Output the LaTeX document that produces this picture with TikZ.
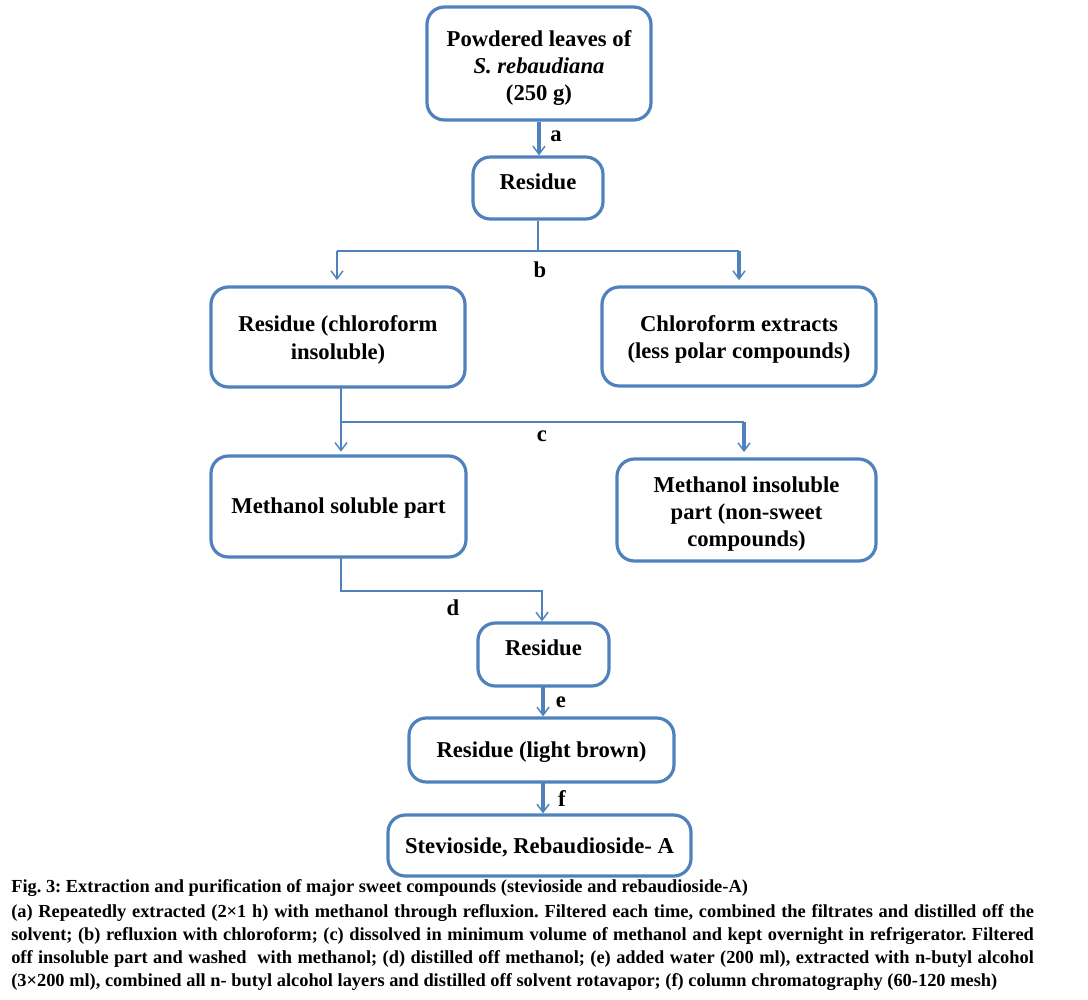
\documentclass[tikz,border=0pt]{standalone}
\usepackage{fontspec}
\setmainfont{Liberation Serif}
\usetikzlibrary{arrows.meta}
\definecolor{fblue}{HTML}{4F81BD}
\tikzset{
  box/.style={draw=fblue, line width=2.4pt, rounded corners=13pt, inner sep=0pt},
  boxtext/.style={align=center, inner sep=0pt, font=\fontsize{17}{20.5}\selectfont\bfseries},
  thinline/.style={draw=fblue, line width=0.8pt},
  thickline/.style={draw=fblue, line width=2.6pt},
  tip/.style={-{Straight Barb[length=6pt,width=9pt,line width=1.1pt]}},
  lab/.style={font=\fontsize{17}{20}\selectfont\bfseries, inner sep=0pt},
  captext/.style={anchor=west, inner sep=0pt, font=\fontsize{13.8}{16}\selectfont\bfseries}
}
\begin{document}
\frenchspacing
\begin{tikzpicture}[x=0.75pt,y=-0.75pt]
\useasboundingbox (0,0) rectangle (1088,999);
% boxes
\node[box, minimum width=168pt, minimum height=84.75pt] (n1) at (539,63.5) {};
\node[boxtext] (n1t) at (539,68) {Powdered leaves of\\\textit{S. rebaudiana}\\(250 g)};
\node[box, minimum width=97.5pt, minimum height=46.5pt] (n2) at (538,188) {};
\node[boxtext] (n2t) at (538,182) {Residue};
\node[box, minimum width=190.5pt, minimum height=75pt] (n3) at (338,337) {};
\node[boxtext] (n3t) at (338,340) {Residue (chloroform\\insoluble)};
\node[box, minimum width=205.5pt, minimum height=74.25pt] (n4) at (739,336.5) {};
\node[boxtext] (n4t) at (739,339.5) {Chloroform extracts\\(less polar compounds)};
\node[box, minimum width=191.25pt, minimum height=75.75pt] (n5) at (338.5,506.5) {};
\node[boxtext] (n5t) at (338.5,508) {Methanol soluble part};
\node[box, minimum width=194.25pt, minimum height=76.5pt] (n6) at (746.5,510) {};
\node[boxtext] (n6t) at (746.5,514) {Methanol insoluble\\part (non-sweet\\compounds)};
\node[box, minimum width=98.25pt, minimum height=47.25pt] (n7) at (543.5,654.5) {};
\node[boxtext] (n7t) at (543.5,648) {Residue};
\node[box, minimum width=198.75pt, minimum height=48pt] (n8) at (541.5,750) {};
\node[boxtext] (n8t) at (541.5,752.5) {Residue (light brown)};
\node[box, minimum width=227.25pt, minimum height=45.75pt] (n9) at (539.5,845.5) {};
\node[boxtext] (n9t) at (539.5,847.5) {Stevioside, Rebaudioside- A};
% a
\draw[thickline, tip] (n1.south) -- (n1.south |- n2.north);
\node[lab] (la) at (556,136) {a};
% b
\coordinate (b0) at (538,251);
\coordinate (bL) at (337,251);
\coordinate (bR) at (739,251);
\draw[thinline] (n2.south) -- (b0);
\draw[thinline] (bL) -- (bR);
\draw[thinline, tip, shorten >=4pt] (bL) -- (bL |- n3.north);
\draw[thickline, tip, shorten >=4pt] (bR) -- (bR |- n4.north);
\node[lab] (lb) at (540,270) {b};
% c
\coordinate (c0) at (341,387);
\coordinate (cL) at (341,422);
\coordinate (cR) at (744,422);
\draw[thinline] (c0) -- (cL) -- (cR);
\draw[thinline, tip, shorten >=2pt] (cL) -- (cL |- n5.north);
\draw[thickline, tip, shorten >=4pt] (cR) -- (cR |- n6.north);
\node[lab] (lc) at (542,436) {c};
% d
\coordinate (d0) at (341,557);
\coordinate (d1) at (341,591);
\coordinate (d2) at (542,591);
\draw[thinline, tip] (d0) -- (d1) -- (d2) -- (d2 |- n7.north);
\node[lab] (ld) at (453,608) {d};
% e
\coordinate (e0) at (543,686);
\draw[thickline, tip] (e0) -- (e0 |- n8.north);
\node[lab] (le) at (561,702) {e};
% f
\coordinate (f0) at (543,782);
\draw[thickline, tip] (f0) -- (f0 |- n9.north);
\node[lab] (lf) at (562,799) {f};
% caption
\node[captext] (cap1) at (11,888) {Fig. 3: Extraction and purification of major sweet compounds (stevioside and rebaudioside-A)};
\node[captext] (cap2) at (11,913) {\hbox to 767pt{(a) Repeatedly extracted (2×1 h) with methanol through refluxion. Filtered each time, combined the filtrates and distilled off the}};
\node[captext] (cap3) at (11,936) {\hbox to 767pt{solvent; (b) refluxion with chloroform; (c) dissolved in minimum volume of methanol and kept overnight in refrigerator. Filtered}};
\node[captext] (cap4) at (11,959) {\hbox to 767pt{off insoluble part and washed\ \ with methanol; (d) distilled off methanol; (e) added water (200 ml), extracted with n-butyl alcohol}};
\node[captext] (cap5) at (11,982) {(3×200 ml), combined all n- butyl alcohol layers and distilled off solvent rotavapor; (f) column chromatography (60-120 mesh)};
\end{tikzpicture}
\end{document}
